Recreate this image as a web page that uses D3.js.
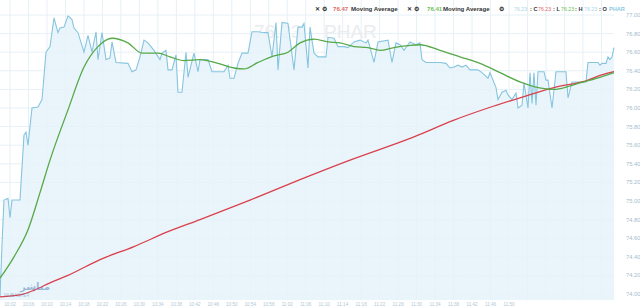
<!DOCTYPE html>
<html>
<head>
<meta charset="utf-8">
<script src="https://cdn.jsdelivr.net/npm/d3@7"></script>
<style>
  html, body { margin: 0; padding: 0; background: #fff; }
  svg { display: block; font-family: "Liberation Sans", Arial, sans-serif; }
</style>
</head>
<body>
<div id="chart"></div>
<script>
// price series, [bar, price]
const closeSeries = [[0,73.97],[1,74.53],[2,75.01],[4,75.03],[5,74.82],[6,75.01],[10,75.01],[12,75.71],[13,75.74],[14,75.60],[16,76.00],[19,76.01],[21,76.09],[23,76.60],[25,76.66],[27,76.97],[29,76.81],[30,76.86],[32,76.87],[34,76.99],[36,76.95],[37,76.86],[39,76.81],[42,76.60],[44,76.78],[46,76.60],[48,76.82],[49,76.52],[51,76.81],[53,76.52],[55,76.54],[56,76.71],[58,76.49],[64,76.48],[66,76.39],[68,76.41],[70,76.55],[72,76.73],[74,76.70],[77,76.62],[80,76.52],[81,76.59],[83,76.62],[84,76.41],[86,76.41],[88,76.57],[89,76.17],[91,76.17],[93,76.60],[94,76.33],[97,76.59],[99,76.39],[100,76.52],[104,76.52],[106,76.39],[112,76.39],[114,76.46],[115,76.32],[117,76.32],[119,76.48],[121,76.59],[124,76.59],[126,76.82],[129,76.82],[132,76.81],[134,76.81],[136,76.55],[138,76.92],[139,76.41],[141,76.92],[144,76.91],[147,76.41],[149,76.87],[151,76.87],[152,76.91],[154,76.43],[155,76.87],[157,76.59],[159,76.55],[163,76.55],[164,76.76],[167,76.75],[169,76.66],[172,76.66],[174,76.65],[177,76.71],[180,76.73],[183,76.70],[184,76.73],[187,76.49],[189,76.71],[194,76.73],[196,76.49],[198,76.70],[200,76.68],[202,76.62],[205,76.71],[208,76.68],[210,76.70],[211,76.52],[213,76.49],[220,76.49],[223,76.48],[225,76.43],[227,76.44],[229,76.46],[231,76.44],[233,76.46],[235,76.41],[239,76.41],[241,76.38],[244,76.32],[245,76.38],[248,76.22],[249,76.09],[251,76.17],[253,76.19],[254,76.14],[256,76.09],[258,76.16],[259,76.00],[261,76.03],[262,76.27],[264,76.00],[265,76.38],[266,76.05],[267,76.38],[268,76.03],[269,76.39],[272,76.39],[273,76.30],[274,76.30],[276,76.00],[278,76.39],[283,76.39],[284,76.11],[286,76.28],[293,76.28],[294,76.49],[299,76.49],[300,76.46],[301,76.48],[303,76.48],[304,76.55],[305,76.52],[306,76.55],[307,76.65]];

// short moving average (green)
const maFast = [[0,74.17],[7,74.40],[14,74.69],[20,75.09],[25,75.44],[34,75.98],[42,76.44],[49,76.66],[56,76.75],[64,76.70],[71,76.59],[79,76.59],[85,76.55],[92,76.51],[100,76.52],[109,76.48],[117,76.43],[122,76.42],[129,76.49],[137,76.56],[144,76.60],[150,76.70],[157,76.74],[164,76.71],[170,76.70],[177,76.66],[184,76.65],[190,76.62],[197,76.65],[204,76.67],[210,76.68],[220,76.62],[230,76.55],[240,76.48],[250,76.38],[260,76.28],[267,76.23],[277,76.20],[284,76.23],[290,76.27],[300,76.33],[307,76.38]];

// long moving average (red)
const maSlow = [[0,73.97],[10,73.99],[17,74.04],[25,74.12],[34,74.20],[50,74.37],[67,74.51],[84,74.67],[100,74.80],[125,75.01],[150,75.23],[175,75.44],[207,75.69],[227,75.87],[244,76.00],[260,76.11],[277,76.22],[294,76.30],[300,76.35],[307,76.39]];

const priceTicks = [74.00, 74.20, 74.40, 74.60, 74.80, 75.00, 75.20, 75.40, 75.60, 75.80, 76.00, 76.20, 76.40, 76.60, 76.80, 77.00];
const timeLabels = ["10:02","10:06","10:10","10:14","10:18","10:22","10:26","10:30","10:34","10:38","10:42","10:46","10:50","10:54","10:58","11:02","11:06","11:10","11:14","11:18","11:22","11:26","11:30","11:34","11:38","11:42","11:46","11:50"];

const width = 640, height = 308;
const plotRight = 614, plotBottom = 300;

const svg = d3.select('#chart').append('svg')
    .attr('width', width)
    .attr('height', height);

const x = d3.scaleLinear().domain([0, 307]).range([0, plotRight]);
const y = d3.scaleLinear().domain([74, 77]).range([294, 15]);
const xt = d3.scalePoint().domain(timeLabels).range([10, 509]);

// grid
const step = xt.step();
const gridX = d3.range(10, plotRight, step);
svg.append('g').selectAll('line').data(gridX).enter().append('line')
    .attr('x1', d => d).attr('x2', d => d)
    .attr('y1', 0).attr('y2', plotBottom)
    .attr('stroke', '#e6f0f6').attr('stroke-width', 1);
svg.append('g').selectAll('line').data(priceTicks).enter().append('line')
    .attr('x1', 0).attr('x2', plotRight)
    .attr('y1', d => y(d)).attr('y2', d => y(d))
    .attr('stroke', '#e6f0f6').attr('stroke-width', 1);

// watermark
svg.append('text').attr('x', 254).attr('y', 38)
    .attr('font-size', 19).attr('fill', '#eaecee').text('76.23');
svg.append('text').attr('x', 324).attr('y', 38)
    .attr('font-size', 19).attr('fill', '#eaecee').text('PHAR');

// area + lines
const area = d3.area().x(d => x(d[0])).y0(plotBottom).y1(d => y(d[1]));
svg.append('path').datum(closeSeries)
    .attr('d', area)
    .attr('fill', '#e5f3fa')
    .attr('fill-opacity', 0.8);

const line = d3.line().x(d => x(d[0])).y(d => y(d[1]));
svg.append('path').datum(closeSeries)
    .attr('d', line).attr('fill', 'none')
    .attr('stroke', '#86c5df').attr('stroke-width', 1.1);
svg.append('path').datum(maSlow)
    .attr('d', line.curve(d3.curveMonotoneX)).attr('fill', 'none')
    .attr('stroke', '#d9404c').attr('stroke-width', 1.3);
svg.append('path').datum(maFast)
    .attr('d', line.curve(d3.curveMonotoneX)).attr('fill', 'none')
    .attr('stroke', '#55a948').attr('stroke-width', 1.3);

// logo watermark bottom left
svg.append('text').attr('x', 20).attr('y', 290)
    .attr('font-size', 10).attr('font-weight', 'bold')
    .attr('fill', '#4a7db5').attr('fill-opacity', 0.5)
    .attr('font-family', 'DejaVu Sans').text('مباشر');
svg.append('text').attr('x', 4).attr('y', 297)
    .attr('font-size', 4.5).attr('fill', '#4a7db5').attr('fill-opacity', 0.45)
    .text('MUBASHER');

// y axis labels
svg.append('g').selectAll('text').data(priceTicks).enter().append('text')
    .attr('x', 626).attr('y', d => y(d) + 2)
    .attr('font-size', 5.8).attr('fill', '#a3bdd0')
    .text(d => d.toFixed(2));

// x axis labels
svg.append('g').selectAll('text').data(timeLabels).enter().append('text')
    .attr('x', d => xt(d)).attr('y', 306)
    .attr('text-anchor', 'middle')
    .attr('font-size', 4.6).attr('fill', '#b3c7d4')
    .text(d => d);

// header legend
const header = svg.append('g').attr('font-size', 6.1).attr('font-weight', 'bold');
const items = [
    [315, '✕', '#333', 6.1], [322, '⚙', '#333', 6.1], [333, '76.47', '#e06a6a', 6.1], [351, 'Moving Average', '#333', 6.1],
    [407, '✕', '#333', 6.1], [414, '⚙', '#333', 6.1], [427, '76.41', '#6cbf5c', 6.1], [443, 'Moving Average', '#333', 6.1],
    [499, '⚙', '#333', 6.1], [514, '76.23', '#a9d4ea', 5.3], [530, ': C', '#333', 5.6], [538, '76.23', '#e06a6a', 5.3],
    [553, ': L', '#333', 5.6], [561, '76.23', '#6cbf5c', 5.3], [575, ': H', '#333', 5.6], [584, '76.23', '#a9d4ea', 5.3],
    [599, ': O', '#333', 5.6], [609, 'PHAR', '#8ec9e4', 5.6]
];
header.selectAll('text').data(items).enter().append('text')
    .attr('x', d => d[0]).attr('y', 11)
    .attr('fill', d => d[2])
    .attr('font-size', d => d[3])
    .attr('font-weight', d => d[3] < 5.5 ? 'normal' : 'bold')
    .text(d => d[1]);
</script>
</body>
</html>
